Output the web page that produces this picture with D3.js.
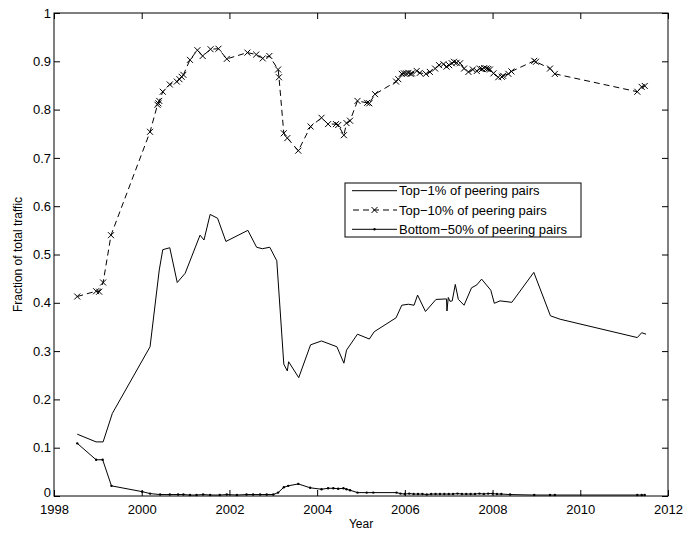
<!DOCTYPE html>
<html><head><meta charset="utf-8">
<script src="https://cdn.jsdelivr.net/npm/d3@7"></script>
<style>
body{margin:0;background:#fff}
svg{display:block}
text{font-family:"Liberation Sans",Arial,Helvetica,sans-serif;fill:#000}
</style>
</head><body>
<svg id="chart" width="686" height="533"></svg>
<script>
const xTicks=[1998,2000,2002,2004,2006,2008,2010,2012];
const yTicks=[0,0.1,0.2,0.3,0.4,0.5,0.6,0.7,0.8,0.9,1];
const yTickLabels=["0","0.1","0.2","0.3","0.4","0.5","0.6","0.7","0.8","0.9","1"];
const seriesNames=["Top\u22121% of peering pairs","Top\u221210% of peering pairs","Bottom\u221250% of peering pairs"];

const top1Years=[1998.53,1998.96,1999.12,1999.33,2000.19,2000.40,2000.48,2000.64,2000.81,2000.99,2001.33,2001.42,2001.56,2001.73,2001.92,2002.42,2002.62,2002.75,2002.92,2003.08,2003.24,2003.32,2003.35,2003.58,2003.85,2004.10,2004.45,2004.61,2004.67,2004.92,2005.19,2005.30,2005.80,2005.93,2006.08,2006.21,2006.29,2006.47,2006.71,2006.95,2006.96,2006.99,2007.03,2007.08,2007.15,2007.22,2007.35,2007.52,2007.64,2007.75,2007.96,2008.04,2008.17,2008.44,2008.94,2009.32,2009.54,2011.30,2011.40,2011.50];
const top1Values=[0.128,0.112,0.112,0.171,0.309,0.468,0.510,0.514,0.442,0.461,0.540,0.530,0.583,0.575,0.527,0.550,0.515,0.512,0.515,0.487,0.273,0.259,0.278,0.245,0.313,0.321,0.309,0.275,0.302,0.335,0.325,0.340,0.369,0.395,0.397,0.395,0.416,0.382,0.407,0.408,0.383,0.411,0.403,0.404,0.438,0.407,0.395,0.431,0.437,0.449,0.426,0.399,0.404,0.401,0.463,0.373,0.366,0.328,0.338,0.335];

const top10Years=[1998.53,1998.96,1999.03,1999.12,1999.30,2000.19,2000.36,2000.38,2000.40,2000.48,2000.64,2000.80,2000.86,2000.91,2000.95,2001.10,2001.27,2001.39,2001.57,2001.75,2001.94,2002.41,2002.61,2002.76,2002.91,2003.11,2003.13,2003.24,2003.32,2003.57,2003.85,2004.10,2004.25,2004.43,2004.48,2004.61,2004.67,2004.75,2004.92,2005.14,2005.19,2005.32,2005.80,2005.85,2005.93,2005.98,2006.03,2006.08,2006.13,2006.16,2006.27,2006.34,2006.48,2006.57,2006.69,2006.78,2006.88,2006.95,2007.01,2007.07,2007.12,2007.18,2007.26,2007.35,2007.45,2007.55,2007.64,2007.71,2007.76,2007.81,2007.86,2007.90,2007.94,2008.02,2008.13,2008.21,2008.24,2008.36,2008.43,2008.95,2008.99,2009.31,2009.42,2011.30,2011.40,2011.47];
const top10Values=[0.413,0.424,0.423,0.442,0.540,0.754,0.810,0.813,0.818,0.837,0.852,0.858,0.863,0.868,0.872,0.903,0.923,0.911,0.925,0.926,0.905,0.918,0.914,0.906,0.911,0.883,0.867,0.751,0.741,0.715,0.765,0.783,0.770,0.770,0.768,0.747,0.772,0.777,0.818,0.814,0.813,0.832,0.858,0.863,0.874,0.875,0.875,0.876,0.874,0.875,0.880,0.876,0.874,0.878,0.885,0.892,0.894,0.889,0.892,0.896,0.899,0.897,0.896,0.885,0.878,0.883,0.880,0.885,0.884,0.886,0.885,0.884,0.883,0.875,0.867,0.868,0.870,0.874,0.879,0.901,0.899,0.885,0.874,0.837,0.847,0.849];

const bottom50Years=[1998.53,1998.96,1999.11,1999.31,2000.01,2000.19,2000.42,2000.64,2000.83,2000.95,2001.10,2001.25,2001.40,2001.56,2001.78,2001.94,2002.17,2002.39,2002.54,2002.70,2002.85,2003.00,2003.11,2003.24,2003.34,2003.57,2003.84,2004.10,2004.25,2004.37,2004.48,2004.60,2004.67,2004.75,2004.92,2005.13,2005.28,2005.81,2005.90,2006.00,2006.10,2006.20,2006.30,2006.40,2006.50,2006.60,2006.70,2006.80,2006.90,2007.00,2007.10,2007.20,2007.30,2007.40,2007.50,2007.60,2007.70,2007.80,2007.90,2008.00,2008.10,2008.20,2008.40,2008.95,2009.31,2009.42,2011.30,2011.40,2011.47];
const bottom50Values=[0.109,0.075,0.075,0.021,0.009,0.005,0.003,0.003,0.003,0.003,0.002,0.002,0.003,0.002,0.002,0.003,0.002,0.003,0.003,0.003,0.003,0.003,0.007,0.018,0.021,0.025,0.017,0.014,0.016,0.016,0.015,0.016,0.014,0.012,0.007,0.007,0.007,0.007,0.005,0.004,0.005,0.004,0.004,0.004,0.003,0.004,0.004,0.004,0.004,0.004,0.004,0.005,0.004,0.004,0.004,0.004,0.005,0.004,0.005,0.005,0.004,0.004,0.003,0.002,0.002,0.002,0.002,0.002,0.002];

const svg=d3.select("#chart");
const L=54,R=668,T=13,B=496;
const x=d3.scaleLinear().domain([1998,2012]).range([L,R]);
const y=d3.scaleLinear().domain([0,1]).range([B,T]);
const FS="13px";

// axes
const gx=svg.append("g").attr("transform",`translate(0,${B})`)
  .call(d3.axisBottom(x).tickValues(xTicks).tickFormat(d3.format("d")).tickSizeInner(-6).tickSizeOuter(0).tickPadding(9));
const gy=svg.append("g").attr("transform",`translate(${L},0)`)
  .call(d3.axisLeft(y).tickValues(yTicks).tickFormat((d,i)=>yTickLabels[i]).tickSizeInner(-6).tickSizeOuter(0).tickPadding(3));
const gt=svg.append("g").attr("transform",`translate(0,${T})`)
  .call(d3.axisTop(x).tickValues(xTicks).tickFormat("").tickSizeInner(-6).tickSizeOuter(0));
const gr=svg.append("g").attr("transform",`translate(${R},0)`)
  .call(d3.axisRight(y).tickValues(yTicks).tickFormat("").tickSizeInner(-6).tickSizeOuter(0));
[gx,gy,gt,gr].forEach(g=>{
  g.selectAll(".domain").remove();
  g.selectAll(".tick line").attr("stroke","#000").attr("stroke-width",1);
  g.selectAll("text").style("font-size",FS).attr("fill","#000");
});
// lift the "0" label a little so it does not collide with "1998"
gy.selectAll(".tick text").filter(d=>d===0).attr("dy","0.05em");
svg.append("rect").attr("x",L).attr("y",T).attr("width",R-L).attr("height",B-T)
  .attr("fill","none").attr("stroke","#000").attr("stroke-width",1);

svg.append("text").attr("x",(L+R)/2).attr("y",528).attr("text-anchor","middle").style("font-size","12px").text("Year");
svg.append("text").attr("transform",`translate(22,${(T+B)/2}) rotate(-90)`).attr("text-anchor","middle").style("font-size","12px").text("Fraction of total traffic");

const line=d3.line().x(d=>x(d[0])).y(d=>y(d[1]));
const top1=top1Years.map((t,i)=>[t,top1Values[i]]);
const top10=top10Years.map((t,i)=>[t,top10Values[i]]);
const bot50=bottom50Years.map((t,i)=>[t,bottom50Values[i]]);

const plot=svg.append("g");
plot.append("path").datum(top1).attr("d",line).attr("fill","none").attr("stroke","#000").attr("stroke-width",1);
plot.append("path").datum(top10).attr("d",line).attr("fill","none").attr("stroke","#000").attr("stroke-width",1).attr("stroke-dasharray","6,4");
plot.append("path").datum(bot50).attr("d",line).attr("fill","none").attr("stroke","#000").attr("stroke-width",1);

const xm=(cx,cy,s)=>`M${cx-s},${cy-s}L${cx+s},${cy+s}M${cx-s},${cy+s}L${cx+s},${cy-s}`;
plot.selectAll("path.xm").data(top10).enter().append("path").attr("class","xm")
  .attr("d",d=>xm(x(d[0]),y(d[1]),3)).attr("stroke","#000").attr("stroke-width",1).attr("fill","none");
plot.selectAll("circle.dot").data(bot50).enter().append("circle").attr("class","dot")
  .attr("cx",d=>x(d[0])).attr("cy",d=>y(d[1])).attr("r",1.2).attr("fill","#000");

// legend
const lg=svg.append("g");
lg.append("rect").attr("x",345).attr("y",183).attr("width",236).attr("height",54).attr("fill","#fff").attr("stroke","#000").attr("stroke-width",1);
const rows=[190.7,210,229.3];
const lx1=352,lx2=397,lm=(lx1+lx2)/2;
seriesNames.forEach((n,i)=>{
  const ry=rows[i];
  const ln=lg.append("line").attr("x1",lx1).attr("x2",lx2).attr("y1",ry).attr("y2",ry).attr("stroke","#000").attr("stroke-width",1);
  if(i===1){ln.attr("stroke-dasharray","6,4").attr("stroke-dashoffset",-1);
    lg.append("path").attr("d",xm(lm,ry,3)).attr("stroke","#000").attr("stroke-width",1);}
  if(i===2){lg.append("circle").attr("cx",lm).attr("cy",ry).attr("r",1.2).attr("fill","#000");}
  lg.append("text").attr("x",399).attr("y",ry).attr("dy","0.35em").style("font-size",FS).text(n);
});
</script>
</body></html>
